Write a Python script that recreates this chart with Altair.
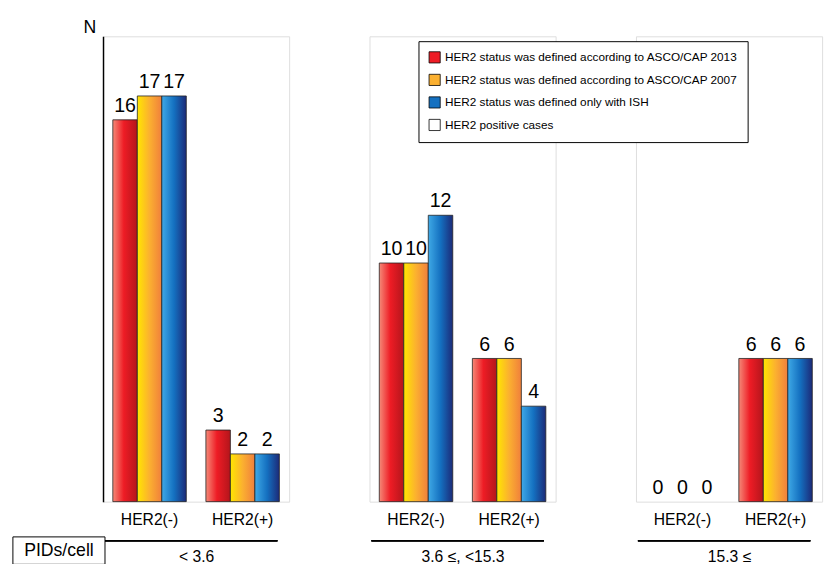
import pandas as pd
import altair as alt

groups = ["< 3.6", "3.6 ≤, <15.3", "15.3 ≤"]
statuses = ["HER2(-)", "HER2(+)"]
series = ["HER2 status was defined according to ASCO/CAP 2013",
          "HER2 status was defined according to ASCO/CAP 2007",
          "HER2 status was defined only with ISH"]
# values[group][status] -> one per series
values = [
    [[16, 17, 17], [3, 2, 2]],
    [[10, 10, 12], [6, 6, 4]],
    [[0, 0, 0], [6, 6, 6]],
]

rows = []
for g, grp in enumerate(groups):
    for s, st in enumerate(statuses):
        for k, ser in enumerate(series):
            rows.append({"group": grp, "status": st, "series": ser, "n": values[g][s][k]})
df = pd.DataFrame(rows)

gradients = [
    alt.Gradient(gradient="linear", x1=0, x2=1, y1=0, y2=0,
                 stops=[alt.GradientStop(color="#f58a78", offset=0),
                        alt.GradientStop(color="#ee1c25", offset=0.45),
                        alt.GradientStop(color="#b3151b", offset=1)]),
    alt.Gradient(gradient="linear", x1=0, x2=1, y1=0, y2=0,
                 stops=[alt.GradientStop(color="#ffe600", offset=0),
                        alt.GradientStop(color="#fbb030", offset=0.5),
                        alt.GradientStop(color="#f07f3c", offset=1)]),
    alt.Gradient(gradient="linear", x1=0, x2=1, y1=0, y2=0,
                 stops=[alt.GradientStop(color="#3fa9e6", offset=0),
                        alt.GradientStop(color="#1470c0", offset=0.5),
                        alt.GradientStop(color="#1c2a78", offset=1)]),
]

W, H = 190, 475
FONT = "Liberation Sans"
yscale = alt.Scale(domain=[0, 19.5], nice=False)
legend_labels = series + ["HER2 positive cases"]


def panel(g):
    d = df[df["group"] == groups[g]]
    base = alt.Chart(d).encode(
        x=alt.X("status:N", sort=statuses, scale=alt.Scale(paddingInner=20 / 95, paddingOuter=10 / 95),
                axis=alt.Axis(title=groups[g], labelAngle=0, ticks=False, domain=False,
                              labelFontSize=16, labelFont=FONT, labelColor="black", labelPadding=10,
                              titleFontSize=16, titleFont=FONT, titleFontWeight="normal",
                              titleColor="black", titlePadding=22)),
        xOffset=alt.XOffset("series:N", sort=series),
        y=alt.Y("n:Q", scale=yscale,
                axis=alt.Axis(title="N", titleAngle=0, titleFontSize=18, titleFont=FONT,
                              titleFontWeight="normal", titleColor="black", titleY=0, titleX=-14,
                              labels=False, ticks=False, grid=False, domainColor="black",
                              domainWidth=1.5) if g == 0 else None),
    )
    layers = []
    for k, ser in enumerate(series):
        layers.append(base.transform_filter(alt.datum.series == ser).transform_filter(
            alt.datum.n > 0).mark_bar(color=gradients[k], stroke="#222", strokeWidth=0.8))
    layers.append(base.mark_text(dy=-14, fontSize=20, font=FONT, color="black").encode(text="n:Q"))
    layers.append(alt.Chart(d).mark_rule(color="black", strokeWidth=1).encode(
        x=alt.value(2), x2=alt.value(W - 12), y=alt.value(H + 40)))
    if g == 0:
        legend_src = pd.DataFrame({"lab": legend_labels})
        layers.append(alt.Chart(legend_src).mark_square(opacity=0, filled=True).encode(
            color=alt.Color("lab:N", sort=legend_labels,
                            scale=alt.Scale(domain=legend_labels,
                                            range=["#ee1c25", "#fbb030", "#1470c0", "white"]),
                            legend=alt.Legend(title=None, orient="none", legendX=322, legendY=5,
                                              symbolType="square", symbolSize=130,
                                              symbolStrokeColor="black", symbolStrokeWidth=0.8,
                                              symbolOpacity=1, labelFont=FONT, labelFontSize=12,
                                              labelColor="black", padding=10, rowPadding=8,
                                              fillColor="white", strokeColor="black",
                                              labelLimit=400))))
        layers.append(alt.Chart(legend_src.head(1)).mark_rect(fill="white", stroke="black").encode(
            x=alt.value(-92), x2=alt.value(2), y=alt.value(H + 36), y2=alt.value(H + 64)))
        layers.append(alt.Chart(legend_src.head(1)).mark_text(
            fontSize=18, font=FONT, color="black").encode(
            x=alt.value(-45), y=alt.value(H + 51), text=alt.value("PIDs/cell")))
    return alt.layer(*layers).properties(width=W, height=H)


chart = alt.hconcat(*[panel(g) for g in range(3)], spacing=80).resolve_scale(
    y="shared").configure_view(stroke="transparent").configure(padding=4)

chart.save("out.html", embed_options={"renderer": "svg", "actions": False})
